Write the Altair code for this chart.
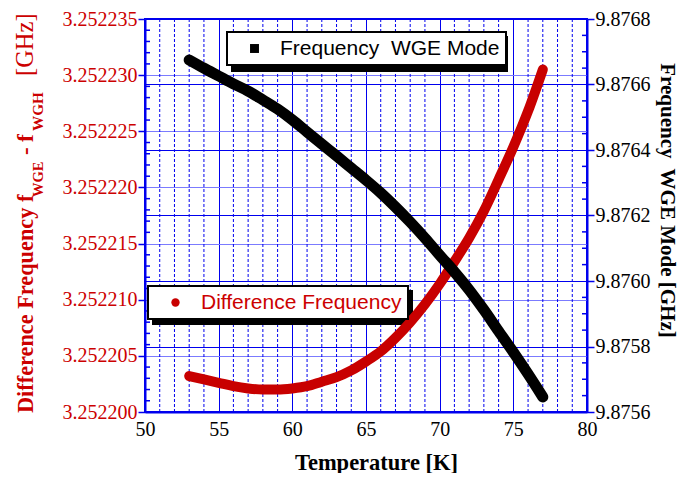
import altair as alt
import pandas as pd

# ---------------- data ----------------
temperature = [53, 54, 55, 56, 57, 58, 59, 60, 61, 62, 63, 64, 65,
               66, 67, 68, 69, 70, 71, 72, 73, 74, 75, 76, 77]

diff_freq = [3.2522032, 3.2522029, 3.2522026, 3.2522023, 3.2522021,
             3.2522020, 3.2522020, 3.2522021, 3.2522023, 3.2522027,
             3.2522031, 3.2522037, 3.2522045, 3.2522054, 3.2522066,
             3.2522080, 3.2522096, 3.2522114, 3.2522134, 3.2522155,
             3.2522179, 3.2522207, 3.2522236, 3.2522268, 3.2522305]

wge_freq = [9.876675, 9.876650, 9.876626, 9.876602, 9.876580,
            9.876553, 9.876525, 9.876492, 9.876455, 9.876418,
            9.876382, 9.876345, 9.876308, 9.876269, 9.876226,
            9.876180, 9.876131, 9.876079, 9.876028, 9.875973,
            9.875912, 9.875847, 9.875783, 9.875716, 9.875646]

x_ticks = [50, 55, 60, 65, 70, 75, 80]
x_minor = [t for t in range(51, 80) if t % 5 != 0]
left_ticks = [3.252200, 3.252205, 3.252210, 3.252215,
              3.252220, 3.252225, 3.252230, 3.252235]
left_minor = [round(3.2522 + i * 1e-6, 7) for i in range(1, 35) if i % 5 != 0]
right_ticks = [9.8756, 9.8758, 9.8760, 9.8762, 9.8764, 9.8766, 9.8768]
right_minor = [round(9.8756 + i * 5e-5, 5) for i in range(1, 24) if i % 4 != 0]

diff_label = "Difference Frequency"
wge_label = "Frequency\u00a0 WGE Mode"

W, H = 442, 393
BLUE = "#0000ee"
RED = "#c80000"
SERIF = "Liberation Serif"
SANS = "Liberation Sans"

df_diff = pd.DataFrame({"T": temperature, "v": diff_freq, "series": diff_label})
df_wge = pd.DataFrame({"T": temperature, "v": wge_freq, "series": wge_label})

x_scale = alt.Scale(domain=[50, 80], nice=False, zero=False)
yl_scale = alt.Scale(domain=[3.2522, 3.252235], nice=False, zero=False)
yr_scale = alt.Scale(domain=[9.8756, 9.8768], nice=False, zero=False)

x_axis = alt.Axis(values=x_ticks, format="d", labelFont=SERIF, labelFontSize=20,
                  labelColor="black", ticks=False, labelPadding=7,
                  domainColor=BLUE, domainWidth=2, grid=True, gridColor=BLUE,
                  gridWidth=1, gridOpacity=1, labelFlush=False,
                  title="Temperature [K]", titleFont=SERIF, titleFontSize=22.5,
                  titleFontWeight="bold", titleColor="black",
                  titleX=231, titleY=57, titleBaseline="alphabetic")

left_axis = alt.Axis(values=left_ticks, format=".6f", labelFont=SERIF,
                     labelFontSize=20, labelColor="#cc0000", tickSize=7,
                     tickColor=BLUE, tickWidth=1.5, labelPadding=1,
                     domainColor=BLUE, domainWidth=2, grid=True,
                     gridColor="#7b7bff", gridWidth=1, gridOpacity=1,
                     labelFlush=False, title=None)

right_axis = alt.Axis(orient="right", values=right_ticks, format=".4f",
                      labelFont=SERIF, labelFontSize=20, labelColor="black",
                      tickSize=7, tickColor=BLUE, tickWidth=1.5, labelPadding=1,
                      domainColor=BLUE, domainWidth=2, grid=True,
                      gridColor=BLUE, gridWidth=1, gridOpacity=1,
                      labelFlush=False,
                      title="Frequency\u00a0 WGE Mode [GHz]", titleFont=SERIF,
                      titleFontSize=21, titleFontWeight="bold",
                      titleColor="black", titleAngle=90, titleX=79, titleY=181,
                      titleAlign="center", titleBaseline="middle")

X = alt.X("T:Q", scale=x_scale, axis=x_axis)

# minor dotted verticals
minor_v = alt.Chart(pd.DataFrame({"T": x_minor})).mark_rule(
    color=BLUE, strokeDash=[3, 2], strokeWidth=1
).encode(x=X)

legend_common = dict(orient="none", title=None, symbolStrokeWidth=0,
                     labelFont=SANS, labelFontSize=21, labelLimit=400,
                     labelOffset=15, symbolOffset=11, padding=6,
                     fillColor="white", strokeColor="black")

# left side (difference frequency)
diff_line = alt.Chart(df_diff).mark_line(
    strokeWidth=10, strokeCap="round", strokeJoin="round", interpolate="monotone"
).encode(
    x=X,
    y=alt.Y("v:Q", scale=yl_scale, axis=left_axis),
    color=alt.Color("series:N",
                    scale=alt.Scale(domain=[diff_label], range=[RED]),
                    legend=alt.Legend(legendX=3, legendY=267,
                                      symbolType="circle", symbolSize=70,
                                      symbolFillColor=RED, labelColor="#cc0000",
                                      **legend_common)),
)
left_minor_ticks = alt.Chart(pd.DataFrame({"v": left_minor})).mark_rule(
    color=BLUE, strokeWidth=1.5
).encode(y=alt.Y("v:Q", scale=yl_scale, axis=left_axis),
         x=alt.value(0), x2=alt.value(5))
left_layer = alt.layer(diff_line, left_minor_ticks)

# right side (WGE frequency)
wge_line = alt.Chart(df_wge).mark_line(
    strokeWidth=11, strokeCap="round", strokeJoin="round", interpolate="monotone"
).encode(
    x=X,
    y=alt.Y("v:Q", scale=yr_scale, axis=right_axis),
    color=alt.Color("series:N",
                    scale=alt.Scale(domain=[wge_label], range=["black"]),
                    legend=alt.Legend(legendX=82, legendY=13,
                                      symbolType="square", symbolSize=80,
                                      symbolFillColor="black", labelColor="black",
                                      **legend_common)),
)
right_minor_ticks = alt.Chart(pd.DataFrame({"v": right_minor})).mark_rule(
    color=BLUE, strokeWidth=1.5
).encode(y=alt.Y("v:Q", scale=yr_scale, axis=right_axis),
         x=alt.value(W - 5), x2=alt.value(W))
right_layer = alt.layer(wge_line, right_minor_ticks)

# legend drop shadows
one = pd.DataFrame({"a": [0]})
shadow1 = alt.Chart(one).mark_rect(color="black").encode(
    x=alt.value(86), x2=alt.value(363), y=alt.value(17), y2=alt.value(53))
shadow2 = alt.Chart(one).mark_rect(color="black").encode(
    x=alt.value(7), x2=alt.value(268), y=alt.value(271), y2=alt.value(306))

# left axis title with subscripts
def title_piece(text, x, y, size, weight):
    return alt.Chart(one).mark_text(
        text=text, angle=270, align="left", baseline="alphabetic",
        font=SERIF, fontSize=size, fontWeight=weight, color="#cc0000"
    ).encode(x=alt.value(x), y=alt.value(y))

title_parts = [
    title_piece("Difference Frequency f", -112, 394, 22.3, "bold"),
    title_piece("WGE", -102, 178, 14.5, "bold"),
    title_piece("-", -112, 136, 23, "bold"),
    title_piece("f", -112, 123, 23, "bold"),
    title_piece("WGH", -102, 112, 15.2, "bold"),
    title_piece("[GHz]", -112, 57, 24.5, "normal"),
]

chart = alt.layer(
    minor_v, shadow1, shadow2, left_layer, right_layer, *title_parts
).resolve_scale(
    y="independent", color="independent"
).properties(
    width=W, height=H,
    autosize=alt.AutoSizeParams(type="none"),
    padding={"left": 137, "top": 11, "right": 93, "bottom": 61},
).configure_view(
    stroke=BLUE, strokeWidth=2
).configure_legend(
    strokeWidth=2
)

chart.save("out.html", embed_options={"renderer": "svg", "actions": False})
